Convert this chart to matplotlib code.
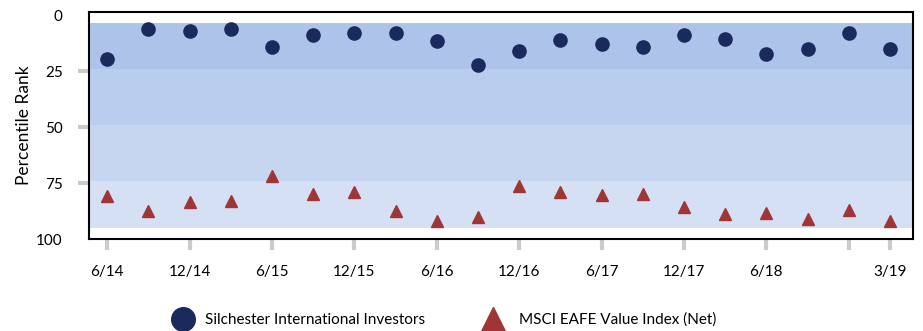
import matplotlib
matplotlib.use("Agg")
import matplotlib.pyplot as plt
from matplotlib.lines import Line2D

plt.rcParams['font.family'] = ['Lato', 'DejaVu Sans']

quarters = ["6/14", "9/14", "12/14", "3/15", "6/15", "9/15", "12/15", "3/16", "6/16", "9/16",
            "12/16", "3/17", "6/17", "9/17", "12/17", "3/18", "6/18", "9/18", "12/18", "3/19"]
silchester = [19.3, 5.9, 6.8, 5.9, 14.0, 8.6, 7.7, 7.7, 11.3, 22.0,
              15.8, 10.8, 13.0, 14.0, 8.6, 10.5, 17.5, 15.0, 7.9, 15.0]
msci = [80.8, 87.6, 83.5, 83.2, 72.0, 79.7, 78.8, 87.6, 92.0, 90.3,
        76.5, 78.8, 80.5, 79.7, 85.8, 88.7, 88.5, 91.2, 86.9, 92.0]
tick_idx = [0, 2, 4, 6, 8, 10, 12, 14, 16, 18, 19]
tick_labels = ["6/14", "12/14", "6/15", "12/15", "6/16", "12/16", "6/17", "12/17", "6/18", "", "3/19"]
band_edges = [3.5, 24, 49, 74, 95]
band_colors = ["#adc3ea", "#b9cdef", "#c6d6f0", "#d5e0f5"]
y_ticks = [0, 25, 50, 75, 100]
series_names = ["Silchester International Investors", "MSCI EAFE Value Index (Net)"]

fig = plt.figure(figsize=(9.23, 3.31), dpi=100)
ax = fig.add_axes([89/923, 1-239/331, (913-89)/923, (239-12)/331])

for i in range(len(band_colors)):
    ax.axhspan(band_edges[i], band_edges[i+1], color=band_colors[i], lw=0, zorder=0)

x = list(range(len(quarters)))
ax.plot(x, silchester, 'o', color="#1b2a5c", markersize=9.5, zorder=3)
ax.plot(x, msci, '^', color="#a03535", markersize=9, zorder=3)

ax.set_xlim(-0.44, 19.56)
ax.set_ylim(100, -1.5)
ax.set_xticks(tick_idx)
ax.set_xticklabels(tick_labels, fontsize=11)
ax.set_yticks(y_ticks)
ax.set_yticklabels([str(v) for v in y_ticks], fontsize=11)
ax.tick_params(axis='x', length=8, width=3, color="#c8ccd0", pad=11, direction='out')
ax.tick_params(axis='y', length=8, width=3, color="#c8ccd0", pad=11, direction='out')
for t in ax.yaxis.get_major_ticks():
    if t.get_loc() in (0, 100):
        t.tick1line.set_visible(False)
ax.set_ylabel("Percentile Rank", fontsize=12.5)
ax.yaxis.set_label_coords((32 - 89) / 824, 0.5)
for s in ax.spines.values():
    s.set_linewidth(1.5)
    s.set_color("black")

ly = 1 - 320/331
h1 = Line2D([], [], marker='o', ls='', color="#1b2a5c", markersize=17)
h2 = Line2D([], [], marker='^', ls='', color="#a03535", markersize=17)
fs = 11
px_per_fs = fs * 100 / 72.0
leg1 = ax.legend([h1], [series_names[0]], loc='center left',
                 bbox_to_anchor=((183 - 0.75 * px_per_fs) / 923, ly),
                 bbox_transform=fig.transFigure,
                 frameon=False, fontsize=fs, handlelength=1.5, borderpad=0,
                 borderaxespad=0, handletextpad=(205 - 183) / px_per_fs - 0.75)
ax.add_artist(leg1)
ax.legend([h2], [series_names[1]], loc='center left',
          bbox_to_anchor=((493 - 0.75 * px_per_fs) / 923, ly),
          bbox_transform=fig.transFigure,
          frameon=False, fontsize=fs, handlelength=1.5, borderpad=0,
          borderaxespad=0, handletextpad=(519 - 493) / px_per_fs - 0.75)

fig.savefig("out.png", dpi=100)
